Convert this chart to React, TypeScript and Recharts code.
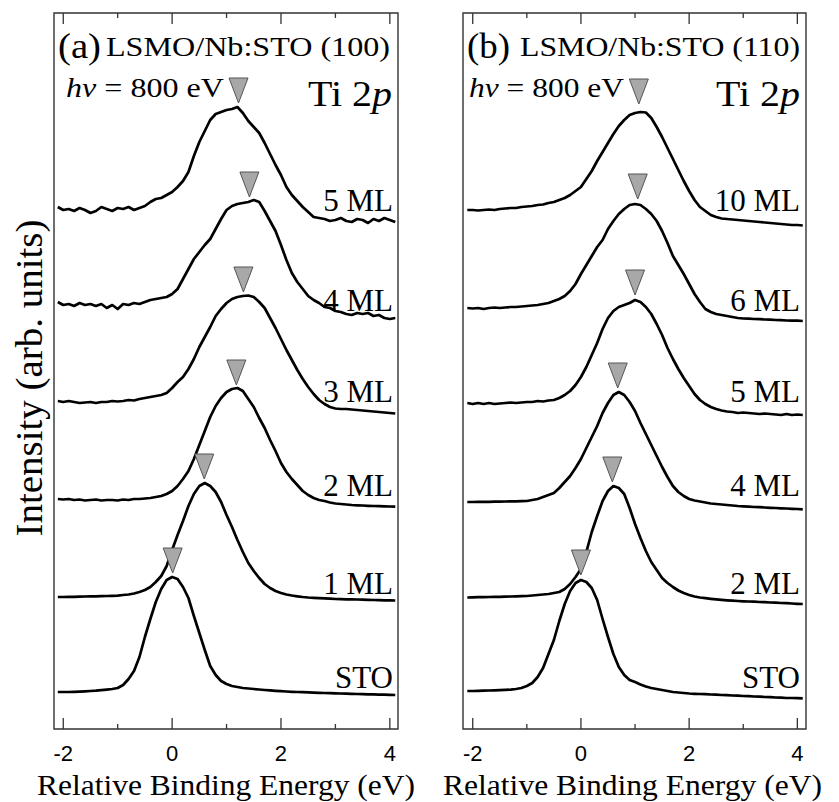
import { ComposedChart, Line, XAxis, YAxis, ReferenceArea, ReferenceDot } from "recharts";

// relative binding energy grid (eV), shared by every spectrum
const ENERGY = [
  -2.1, -2.0, -1.9, -1.8, -1.7, -1.6, -1.5, -1.4, -1.3, -1.2,
  -1.1, -1.0, -0.9, -0.8, -0.7, -0.6, -0.5, -0.4, -0.3, -0.2,
  -0.1, 0.0, 0.1, 0.2, 0.3, 0.4, 0.5, 0.6, 0.7, 0.8,
  0.9, 1.0, 1.1, 1.2, 1.3, 1.4, 1.5, 1.6, 1.7, 1.8,
  1.9, 2.0, 2.1, 2.2, 2.3, 2.4, 2.5, 2.6, 2.7, 2.8,
  2.9, 3.0, 3.1, 3.2, 3.3, 3.4, 3.5, 3.6, 3.7, 3.8,
  3.9, 4.0, 4.1,
];

// panel (a) LSMO/Nb:STO (100), stacked intensities (arb. units)
const A_STO = [
  0.37, 0.37, 0.37, 0.372, 0.374, 0.377, 0.38, 0.383, 0.388, 0.394,
  0.40, 0.41, 0.44, 0.50, 0.58, 0.72, 0.92, 1.10, 1.27, 1.40,
  1.49, 1.52, 1.50, 1.42, 1.31, 1.13, 0.96, 0.79, 0.63, 0.54,
  0.48, 0.45, 0.43, 0.42, 0.41, 0.405, 0.40, 0.395, 0.39, 0.386,
  0.382, 0.378, 0.375, 0.372, 0.37, 0.368, 0.366, 0.364, 0.362, 0.36,
  0.358, 0.356, 0.355, 0.353, 0.352, 0.35, 0.349, 0.347, 0.346, 0.344,
  0.343, 0.342, 0.34,
];
const A_1ML = [
  1.32, 1.32, 1.322, 1.322, 1.324, 1.325, 1.326, 1.327, 1.328, 1.33,
  1.332, 1.334, 1.34, 1.345, 1.355, 1.37, 1.39, 1.42, 1.47, 1.53,
  1.63, 1.79, 1.94, 2.08, 2.23, 2.35, 2.43, 2.46, 2.43, 2.37,
  2.27, 2.14, 2.02, 1.89, 1.77, 1.66, 1.58, 1.51, 1.45, 1.41,
  1.38, 1.36, 1.345, 1.335, 1.327, 1.32, 1.315, 1.312, 1.309, 1.306,
  1.303, 1.30, 1.298, 1.297, 1.296, 1.295, 1.294, 1.292, 1.29, 1.288,
  1.287, 1.286, 1.285,
];
const A_2ML = [
  2.30, 2.295, 2.30, 2.29, 2.295, 2.285, 2.29, 2.295, 2.285, 2.29,
  2.29, 2.285, 2.295, 2.29, 2.30, 2.30, 2.305, 2.31, 2.32, 2.33,
  2.35, 2.38, 2.43, 2.50, 2.58, 2.70, 2.84, 2.98, 3.12, 3.23,
  3.31, 3.37, 3.40, 3.41, 3.38, 3.30, 3.22, 3.11, 3.01, 2.89,
  2.78, 2.66, 2.57, 2.50, 2.44, 2.38, 2.34, 2.31, 2.29, 2.28,
  2.265, 2.255, 2.25, 2.245, 2.24, 2.237, 2.235, 2.232, 2.23, 2.228,
  2.226, 2.225, 2.223,
];
const A_3ML = [
  3.28, 3.27, 3.28, 3.27, 3.26, 3.265, 3.27, 3.26, 3.27, 3.27,
  3.28, 3.275, 3.28, 3.29, 3.285, 3.30, 3.31, 3.32, 3.33, 3.34,
  3.36, 3.41, 3.47, 3.52, 3.60, 3.70, 3.82, 3.92, 4.02, 4.13,
  4.20, 4.26, 4.30, 4.32, 4.33, 4.335, 4.32, 4.27, 4.21, 4.11,
  4.01, 3.90, 3.79, 3.69, 3.59, 3.50, 3.42, 3.35, 3.29, 3.25,
  3.22, 3.205, 3.20, 3.20, 3.195, 3.19, 3.185, 3.18, 3.175, 3.17,
  3.165, 3.16, 3.155,
];
const A_4ML = [
  4.27, 4.24, 4.25, 4.23, 4.26, 4.24, 4.25, 4.23, 4.25, 4.21,
  4.24, 4.20, 4.25, 4.24, 4.26, 4.25, 4.27, 4.29, 4.30, 4.31,
  4.32, 4.35, 4.40, 4.50, 4.60, 4.70, 4.77, 4.84, 4.90, 5.00,
  5.10, 5.19, 5.23, 5.25, 5.26, 5.27, 5.29, 5.27, 5.18, 5.08,
  4.98, 4.84, 4.69, 4.56, 4.47, 4.40, 4.33, 4.29, 4.26, 4.22,
  4.21, 4.18, 4.17, 4.15, 4.14, 4.16, 4.15, 4.16, 4.13, 4.14,
  4.11, 4.10, 4.11,
];
const A_5ML = [
  5.22, 5.19, 5.20, 5.18, 5.21, 5.19, 5.16, 5.18, 5.22, 5.20,
  5.18, 5.21, 5.20, 5.22, 5.19, 5.21, 5.23, 5.27, 5.30, 5.31,
  5.34, 5.37, 5.42, 5.48, 5.57, 5.73, 5.87, 5.98, 6.09, 6.15,
  6.17, 6.19, 6.20, 6.22, 6.16, 6.08, 6.02, 5.96, 5.86, 5.75,
  5.64, 5.54, 5.42, 5.34, 5.28, 5.22, 5.17, 5.12, 5.11, 5.10,
  5.08, 5.09, 5.11, 5.08, 5.07, 5.10, 5.09, 5.06, 5.10, 5.08,
  5.11, 5.09, 5.07,
];

// panel (b) LSMO/Nb:STO (110)
const B_STO = [
  0.38, 0.38, 0.382, 0.384, 0.385, 0.387, 0.389, 0.391, 0.394, 0.40,
  0.41, 0.43, 0.46, 0.52, 0.61, 0.75, 0.89, 1.08, 1.25, 1.38,
  1.46, 1.49, 1.47, 1.41, 1.29, 1.10, 0.92, 0.75, 0.62, 0.54,
  0.49, 0.47, 0.445, 0.425, 0.41, 0.40, 0.39, 0.38, 0.37, 0.365,
  0.36, 0.355, 0.352, 0.35, 0.348, 0.345, 0.343, 0.34, 0.338, 0.335,
  0.333, 0.33, 0.328, 0.325, 0.323, 0.32, 0.318, 0.315, 0.313, 0.31,
  0.31, 0.308, 0.307,
];
const B_2ML = [
  1.315, 1.316, 1.318, 1.319, 1.32, 1.321, 1.322, 1.324, 1.325, 1.327,
  1.328, 1.33, 1.335, 1.34, 1.345, 1.35, 1.36, 1.37, 1.40, 1.45,
  1.52, 1.60, 1.77, 1.97, 2.13, 2.28, 2.38, 2.43, 2.41, 2.35,
  2.21, 2.05, 1.91, 1.78, 1.67, 1.59, 1.51, 1.46, 1.42, 1.385,
  1.36, 1.34, 1.325, 1.315, 1.308, 1.302, 1.297, 1.292, 1.287, 1.283,
  1.28, 1.277, 1.275, 1.273, 1.27, 1.268, 1.265, 1.263, 1.26, 1.258,
  1.255, 1.252, 1.25,
];
const B_4ML = [
  2.27, 2.27, 2.271, 2.272, 2.272, 2.273, 2.274, 2.275, 2.276, 2.277,
  2.278, 2.28, 2.29, 2.30, 2.32, 2.34, 2.36, 2.41, 2.47, 2.53,
  2.61, 2.70, 2.81, 2.92, 3.03, 3.16, 3.26, 3.34, 3.37, 3.34,
  3.27, 3.18, 3.06, 2.95, 2.84, 2.73, 2.62, 2.52, 2.43, 2.37,
  2.33, 2.30, 2.285, 2.275, 2.265, 2.255, 2.25, 2.245, 2.24, 2.235,
  2.23, 2.227, 2.224, 2.22, 2.218, 2.215, 2.212, 2.21, 2.207, 2.205,
  2.202, 2.2, 2.197,
];
const B_5ML = [
  3.26, 3.25, 3.26, 3.25, 3.26, 3.25, 3.255, 3.26, 3.265, 3.26,
  3.265, 3.27, 3.27, 3.28, 3.275, 3.285, 3.29, 3.31, 3.34, 3.38,
  3.44, 3.52, 3.62, 3.74, 3.86, 4.00, 4.11, 4.18, 4.22, 4.24,
  4.26, 4.29, 4.27, 4.22, 4.15, 4.05, 3.94, 3.81, 3.70, 3.60,
  3.51, 3.43, 3.35, 3.29, 3.25, 3.22, 3.20, 3.185, 3.175, 3.17,
  3.16, 3.165, 3.16, 3.155, 3.15, 3.155, 3.15, 3.145, 3.14, 3.15,
  3.14, 3.145, 3.14,
];
const B_6ML = [
  4.21, 4.205, 4.21, 4.20, 4.21, 4.215, 4.21, 4.215, 4.22, 4.22,
  4.225, 4.23, 4.235, 4.24, 4.25, 4.26, 4.28, 4.30, 4.33, 4.38,
  4.45, 4.55, 4.64, 4.73, 4.82, 4.89, 5.00, 5.08, 5.15, 5.20,
  5.24, 5.25, 5.24, 5.20, 5.15, 5.08, 4.98, 4.86, 4.73, 4.64,
  4.55, 4.45, 4.35, 4.27, 4.20, 4.17, 4.15, 4.14, 4.13, 4.12,
  4.11, 4.105, 4.103, 4.10, 4.098, 4.095, 4.093, 4.09, 4.088, 4.085,
  4.084, 4.083, 4.08,
];
const B_10ML = [
  5.19, 5.19, 5.185, 5.19, 5.195, 5.19, 5.20, 5.205, 5.21, 5.21,
  5.22, 5.225, 5.23, 5.24, 5.245, 5.26, 5.27, 5.29, 5.31, 5.34,
  5.38, 5.42, 5.50, 5.58, 5.68, 5.77, 5.86, 5.95, 6.03, 6.09,
  6.14, 6.16, 6.17, 6.165, 6.11, 6.02, 5.92, 5.81, 5.70, 5.59,
  5.48, 5.38, 5.29, 5.22, 5.18, 5.14, 5.12, 5.105, 5.10, 5.095,
  5.09, 5.085, 5.08, 5.075, 5.07, 5.065, 5.06, 5.055, 5.05, 5.045,
  5.04, 5.04, 5.035,
];

const A_LABELS = ["STO", "1 ML", "2 ML", "3 ML", "4 ML", "5 ML"];
const B_LABELS = ["STO", "2 ML", "4 ML", "5 ML", "6 ML", "10 ML"];

// peak markers (triangle tip position)
const A_PEAK_E = [0.01, 0.59, 1.18, 1.31, 1.42, 1.22];
const A_PEAK_Y = [1.56, 2.5, 3.44, 4.37, 5.32, 6.26];
const B_PEAK_E = [0.0, 0.58, 0.68, 1.0, 1.05, 1.07];
const B_PEAK_Y = [1.54, 2.47, 3.41, 4.34, 5.3, 6.25];

const TICKS = [-2, -1, 0, 1, 2, 3, 4];
const Y_MAX = 7.16;

const SERIF = "'Liberation Serif', 'Times New Roman', serif";
const SANS = "'Liberation Sans', Arial, sans-serif";
const LABEL_Y = [688, 594, 496, 402, 311, 211];

const BottomTick = (p: any) => {
  const major = p.payload.value % 2 === 0;
  return (
    <g>
      <line x1={p.x} x2={p.x} y1={p.y} y2={p.y - (major ? 11 : 5)} stroke="#333" strokeWidth={1.3} />
      {major && (
        <text x={p.x} y={p.y + 32} textAnchor="middle" fontFamily={SANS} fontSize={22} fill="#000">
          {p.payload.value}
        </text>
      )}
    </g>
  );
};

const TopTick = (p: any) => {
  const major = p.payload.value % 2 === 0;
  return <line x1={p.x} x2={p.x} y1={p.y} y2={p.y + (major ? 11 : 5)} stroke="#333" strokeWidth={1.3} />;
};

const Marker = (p: any) => {
  const { cx, cy } = p;
  return (
    <polygon
      points={`${cx - 9.5},${cy - 25} ${cx + 9.5},${cy - 25} ${cx},${cy}`}
      fill="#a8a8a8"
      stroke="#555"
      strokeWidth={1}
    />
  );
};

function Panel({ left, width, margin, domain, series, peakE, peakY }: any) {
  const rows = ENERGY.map((e, i) => {
    const r: any = { e };
    series.forEach((s: number[], k: number) => (r["s" + k] = s[i]));
    return r;
  });
  return (
    <div style={{ position: "absolute", left, top: 0 }}>
      <ComposedChart width={width} height={802} data={rows} margin={margin}>
        <XAxis
          dataKey="e"
          type="number"
          domain={domain}
          ticks={TICKS}
          interval={0}
          allowDataOverflow
          axisLine={false}
          tickLine={false}
          tickSize={0}
          tickMargin={0}
          height={40}
          tick={BottomTick}
        />
        <XAxis
          xAxisId="top"
          orientation="top"
          dataKey="e"
          type="number"
          domain={domain}
          ticks={TICKS}
          interval={0}
          allowDataOverflow
          axisLine={false}
          tickLine={false}
          tickSize={0}
          tickMargin={0}
          height={1}
          tick={TopTick}
        />
        <YAxis hide type="number" domain={[0, Y_MAX]} allowDataOverflow />
        <ReferenceArea
          x1={domain[0]}
          x2={domain[1]}
          y1={0}
          y2={Y_MAX}
          fill="none"
          fillOpacity={0}
          stroke="#333"
          strokeWidth={1.4}
          ifOverflow="visible"
        />
        {series.map((_: number[], k: number) => (
          <Line
            key={k}
            dataKey={"s" + k}
            type="linear"
            stroke="#000"
            strokeWidth={2.7}
            strokeLinejoin="round"
            dot={false}
            activeDot={false}
            isAnimationActive={false}
          />
        ))}
        {peakE.map((e: number, k: number) => (
          <ReferenceDot key={k} x={e} y={peakY[k]} shape={Marker} ifOverflow="visible" />
        ))}
      </ComposedChart>
    </div>
  );
}

function Header({ tag, tagX, title, titleX, titleLen, hvX, hvLen, tiEnd, labels, labelEnd }: any) {
  return (
    <g fontFamily={SERIF} fill="#000">
      <text x={tagX} y={58} fontSize={36} textLength={43} lengthAdjust="spacingAndGlyphs">{tag}</text>
      <text x={titleX} y={56} fontSize={28} textLength={titleLen} lengthAdjust="spacingAndGlyphs">{title}</text>
      <text x={hvX} y={97} fontSize={28} textLength={hvLen} lengthAdjust="spacingAndGlyphs">
        <tspan fontStyle="italic">hv</tspan> = 800 eV
      </text>
      <text x={tiEnd - 84} y={106} fontSize={36} textLength={84} lengthAdjust="spacingAndGlyphs">
        Ti 2<tspan fontStyle="italic">p</tspan>
      </text>
      {labels.map((l: string, k: number) => (
        <text key={l} x={labelEnd} y={LABEL_Y[k]} fontSize={31} textAnchor="end">{l}</text>
      ))}
    </g>
  );
}

export default function App() {
  return (
    <div style={{ position: "absolute", left: 0, top: 0, width: 839, height: 802, background: "#fff", overflow: "hidden" }}>
      <Panel
        left={0}
        width={420}
        margin={{ top: 12, right: 22, bottom: 33, left: 54 }}
        domain={[-2.17, 4.15]}
        series={[A_STO, A_1ML, A_2ML, A_3ML, A_4ML, A_5ML]}
        peakE={A_PEAK_E}
        peakY={A_PEAK_Y}
      />
      <Panel
        left={420}
        width={419}
        margin={{ top: 12, right: 33, bottom: 33, left: 43 }}
        domain={[-2.18, 4.16]}
        series={[B_STO, B_2ML, B_4ML, B_5ML, B_6ML, B_10ML]}
        peakE={B_PEAK_E}
        peakY={B_PEAK_Y}
      />
      <svg width={839} height={802} style={{ position: "absolute", left: 0, top: 0, pointerEvents: "none" }}>
        <Header tag="(a)" tagX={58} title="LSMO/Nb:STO (100)" titleX={106} titleLen={284} hvX={66} hvLen={158} tiEnd={392} labels={A_LABELS} labelEnd={393} />
        <Header tag="(b)" tagX={467} title="LSMO/Nb:STO (110)" titleX={520} titleLen={280} hvX={469} hvLen={155} tiEnd={800} labels={B_LABELS} labelEnd={800} />
        <text transform="translate(42,378) rotate(-90)" textAnchor="middle" fontFamily={SERIF} fontSize={37} textLength={317} lengthAdjust="spacingAndGlyphs">
          Intensity (arb. units)
        </text>
        <text x={37} y={795} fontFamily={SERIF} fontSize={29} textLength={378} lengthAdjust="spacingAndGlyphs">
          Relative Binding Energy (eV)
        </text>
        <text x={443} y={795} fontFamily={SERIF} fontSize={29} textLength={379} lengthAdjust="spacingAndGlyphs">
          Relative Binding Energy (eV)
        </text>
      </svg>
    </div>
  );
}
